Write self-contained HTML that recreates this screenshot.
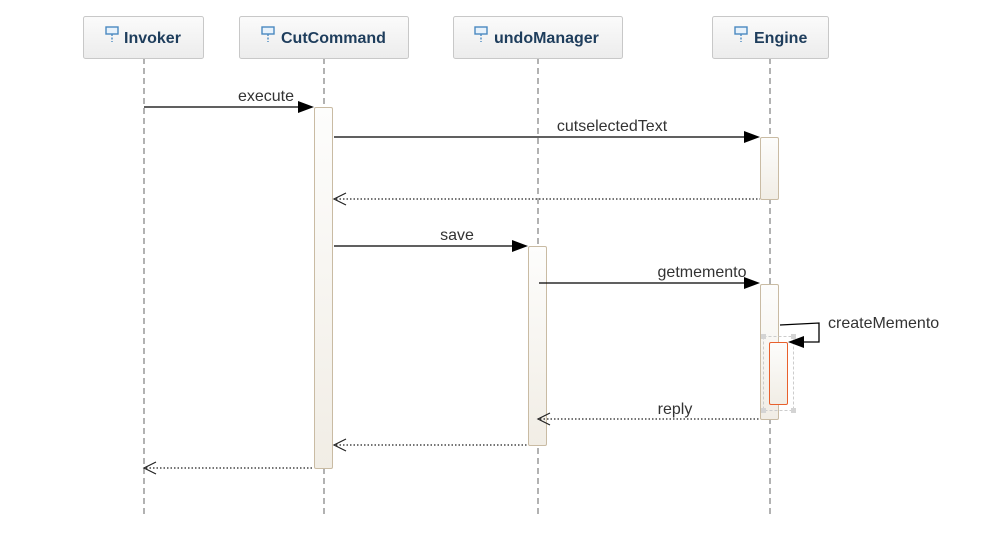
<!DOCTYPE html>
<html><head><meta charset="utf-8"><style>
html,body{margin:0;padding:0;background:#fff;}
svg{display:block;font-family:"Liberation Sans",Arial,sans-serif;}
.hdr{font-weight:bold;font-size:16px;fill:#1e3d5c;}
.lbl{font-size:16px;fill:#333;}
</style></head><body>
<svg width="984" height="541" viewBox="0 0 984 541" xmlns="http://www.w3.org/2000/svg">
<defs>
<linearGradient id="hg" x1="0" y1="0" x2="0" y2="1"><stop offset="0" stop-color="#fbfbfb"/><stop offset="1" stop-color="#ececec"/></linearGradient>
<linearGradient id="ag" x1="0" y1="0" x2="0" y2="1"><stop offset="0" stop-color="#fdfdfc"/><stop offset="1" stop-color="#f1ede5"/></linearGradient>
<g id="ic"><rect x="0" y="0" width="12" height="7" fill="#e8f2fb" stroke="#4a89c0" stroke-width="1.4"/><line x1="6" y1="7" x2="6" y2="15" stroke="#4a89c0" stroke-width="1.4" stroke-dasharray="2,1.5"/></g>
</defs>
<g stroke="#999" stroke-width="1.5" stroke-dasharray="6,4">
<line x1="144" y1="58" x2="144" y2="516"/>
<line x1="324" y1="58" x2="324" y2="516"/>
<line x1="538" y1="58" x2="538" y2="516"/>
<line x1="770" y1="58" x2="770" y2="516"/>
</g>
<g stroke="#c8c8c8" fill="url(#hg)">
<rect x="83.5" y="16.5" width="120" height="42" rx="2"/>
<rect x="239.5" y="16.5" width="169" height="42" rx="2"/>
<rect x="453.5" y="16.5" width="169" height="42" rx="2"/>
<rect x="712.5" y="16.5" width="116" height="42" rx="2"/>
</g>
<use href="#ic" x="106" y="27"/><text class="hdr" x="124" y="43">Invoker</text>
<use href="#ic" x="262" y="27"/><text class="hdr" x="281" y="43">CutCommand</text>
<use href="#ic" x="475" y="27"/><text class="hdr" x="494" y="43">undoManager</text>
<use href="#ic" x="735" y="27"/><text class="hdr" x="754" y="43">Engine</text>
<g stroke="#c9bba3" fill="url(#ag)">
<rect x="314.5" y="107.5" width="18" height="361" rx="1.5"/>
<rect x="760.5" y="137.5" width="18" height="62" rx="1.5"/>
<rect x="528.5" y="246.5" width="18" height="199" rx="1.5"/>
<rect x="760.5" y="284.5" width="18" height="135" rx="1.5"/>
</g>
<rect x="763.5" y="336.5" width="30" height="74" fill="none" stroke="#ccc" stroke-dasharray="3,2"/>
<rect x="769.5" y="342.5" width="18" height="62" rx="1.5" fill="url(#ag)" stroke="#e8602c"/>
<g fill="#d4d4d4"><rect x="761" y="334" width="5" height="5"/><rect x="791" y="334" width="5" height="5"/><rect x="761" y="408" width="5" height="5"/><rect x="791" y="408" width="5" height="5"/></g>
<g stroke="#000" stroke-width="1.3" fill="none">
<line x1="144" y1="107" x2="300" y2="107"/>
<line x1="334" y1="137" x2="746" y2="137"/>
<line x1="334" y1="246" x2="514" y2="246"/>
<line x1="539" y1="283" x2="746" y2="283"/>
<polyline points="780,325 819,323 819,342 803,342"/>
</g>
<g fill="#000">
<polygon points="314,107 298,101 298,113"/>
<polygon points="760,137 744,131 744,143"/>
<polygon points="528,246 512,240 512,252"/>
<polygon points="760,283 744,277 744,289"/>
<polygon points="788,342 804,336 804,348"/>
</g>
<g stroke="#222" stroke-width="1.2" fill="none">
<line x1="336" y1="199" x2="760" y2="199" stroke-dasharray="1.5,2"/>
<polyline points="346,193 334,199 346,205"/>
<line x1="540" y1="419" x2="760" y2="419" stroke-dasharray="1.5,2"/>
<polyline points="550,413 538,419 550,425"/>
<line x1="336" y1="445" x2="528" y2="445" stroke-dasharray="1.5,2"/>
<polyline points="346,439 334,445 346,451"/>
<line x1="146" y1="468" x2="314" y2="468" stroke-dasharray="1.5,2"/>
<polyline points="156,462 144,468 156,474"/>
</g>
<text class="lbl" x="266" y="101" text-anchor="middle">execute</text>
<text class="lbl" x="612" y="131" text-anchor="middle">cutselectedText</text>
<text class="lbl" x="457" y="240" text-anchor="middle">save</text>
<text class="lbl" x="702" y="277" text-anchor="middle">getmemento</text>
<text class="lbl" x="828" y="328">createMemento</text>
<text class="lbl" x="675" y="414" text-anchor="middle">reply</text>
</svg>
</body></html>
